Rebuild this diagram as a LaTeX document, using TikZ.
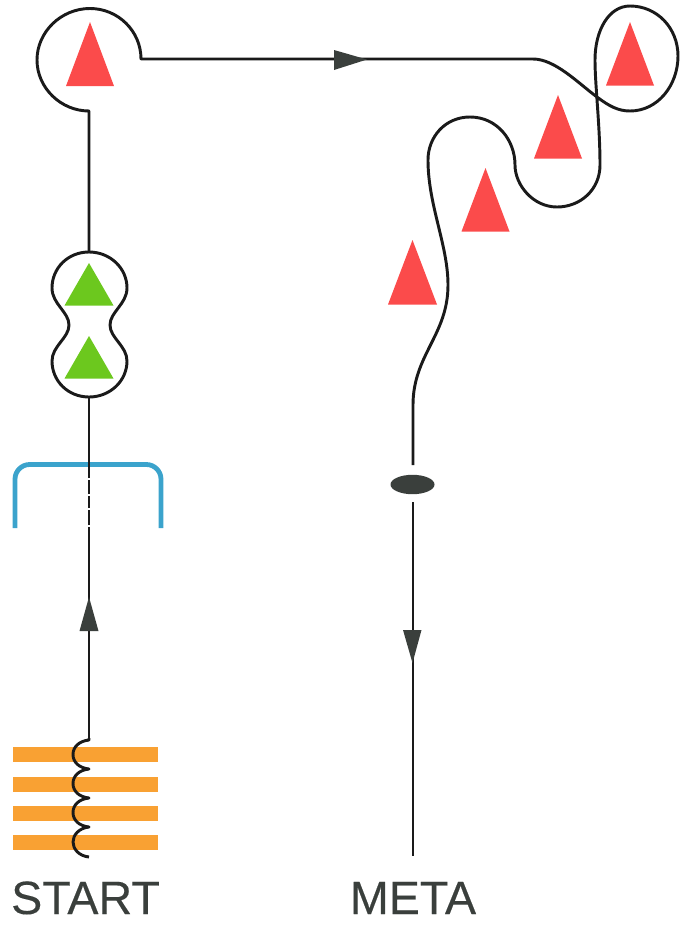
\documentclass[tikz,border=0pt]{standalone}
\usepackage{fontspec}
\setmainfont{Liberation Sans}
\newfontfamily\labelfont[FakeBold=0.25]{Liberation Sans}
\usetikzlibrary{arrows.meta}
\definecolor{redtri}{HTML}{FB4B4B}
\definecolor{greentri}{HTML}{6CC81E}
\definecolor{orangebar}{HTML}{F9A133}
\definecolor{bluebrk}{HTML}{3BA3CC}
\definecolor{inkline}{HTML}{1A1A1A}
\definecolor{inktext}{HTML}{3A3F3C}
\tikzset{
  x=0.75pt,y=-0.75pt,
  route/.style={draw=inkline,line width=2.2pt,line join=round},
  bluebracket/.style={draw=bluebrk,line width=3.6pt,rounded corners=11pt},
  redtriangle/.style={fill=redtri},
  greentriangle/.style={fill=greentri},
  orangebarstyle/.style={fill=orangebar},
  headtip/.style={fill=inktext},
  labeltext/.style={text=inktext,font=\labelfont\fontsize{35}{35}\selectfont,inner sep=0pt,anchor=base},
}
\begin{document}
\begin{tikzpicture}
\useasboundingbox (0,0) rectangle (680,925);
% orange bars
\foreach \yy in {747,777,806,835}
  \fill[orangebarstyle] (12.5,\yy) rectangle (158,\yy+14.5);
% blue bracket
\draw[bluebracket] (15,528) -- (15,464.5) -- (161,464.5) -- (161,528);
% left black line
\coordinate (coilTop) at (89,738);
\coordinate (peanutBottom) at (89,397);
\draw[route] (peanutBottom) -- (coilTop);
\foreach \yy in {478,494,508,525}
  \fill[white] (87,\yy) rectangle (91,\yy+1.5);
\draw[route] (coilTop) -- (89,740)
  .. controls (79,741) and (73,747) .. (73,754.5)
  .. controls (73,762) and (79,768) .. (89,769)
  .. controls (79,770) and (73,776) .. (73,783.5)
  .. controls (73,791) and (79,797) .. (89,798)
  .. controls (79,799) and (73,805) .. (73,812.5)
  .. controls (73,820) and (79,826) .. (89,827)
  .. controls (79,828) and (73,835) .. (73,842)
  .. controls (73,849) and (79,856) .. (89,857);
% arrow up
\fill[headtip] (89,597) -- (98.5,631) -- (79.5,631) -- cycle;
% peanut
\draw[route] (89,252)
  .. controls (110,252) and (127,268) .. (127,288)
  .. controls (127,304) and (110,312) .. (110,325)
  .. controls (110,338) and (127,346) .. (127,361)
  .. controls (127,381) and (110,397) .. (89,397)
  .. controls (68,397) and (52,381) .. (52,361)
  .. controls (52,346) and (69,338) .. (69,325)
  .. controls (69,312) and (52,304) .. (52,288)
  .. controls (52,268) and (68,252) .. (89,252) -- cycle;
% upper line and route
\draw[route] (89,252) -- (89,111)
  .. controls (61,111) and (37,88) .. (37,60)
  .. controls (37,32) and (61,8.5) .. (90,8.5)
  .. controls (118,8.5) and (141,31) .. (141,59)
  -- (533,59)
  .. controls (555,59) and (578,83) .. (597,97)
  .. controls (609,106) and (618,111) .. (630,111)
  .. controls (658,111) and (678,85) .. (678,56)
  .. controls (678,28) and (657,6) .. (630,6)
  .. controls (609,6) and (595,30) .. (595,60)
  .. controls (595,85) and (600,125) .. (600,165)
  .. controls (600,190) and (580,207) .. (557,207)
  .. controls (533,207) and (515,185) .. (515,165)
  .. controls (515,140) and (497,117) .. (470,117)
  .. controls (445,117) and (428,137) .. (428,160)
  .. controls (428,205) and (448,245) .. (448,285)
  .. controls (448,335) and (413,355) .. (413,405)
  -- (413,465);
\draw[route] (413,502) -- (413,856);
\fill[headtip] (334,50) -- (367,59.5) -- (334,70) -- cycle;
\fill[headtip] (403,630) -- (421.5,630) -- (412.5,663) -- cycle;
\fill[inktext] (412.5,484.5) ellipse[x radius=22,y radius=9.7];
% triangles
\fill[redtriangle] (90,22) -- (114,86) -- (66,86) -- cycle;
\fill[redtriangle] (630,22) -- (654,85.5) -- (606,85.5) -- cycle;
\fill[redtriangle] (558,95) -- (582,158.5) -- (534,158.5) -- cycle;
\fill[redtriangle] (485.5,168) -- (509.5,231.5) -- (461.5,231.5) -- cycle;
\fill[redtriangle] (412.5,240) -- (437,304.5) -- (388,304.5) -- cycle;
\fill[greentriangle] (89,263) -- (113.5,305.5) -- (64.5,305.5) -- cycle;
\fill[greentriangle] (89,336) -- (113.5,378.5) -- (64.5,378.5) -- cycle;
% labels
\node[labeltext] (startlabel) at (85.5,914) {START};
\node[labeltext] (metalabel) at (413,914) {META};
\end{tikzpicture}
\end{document}
